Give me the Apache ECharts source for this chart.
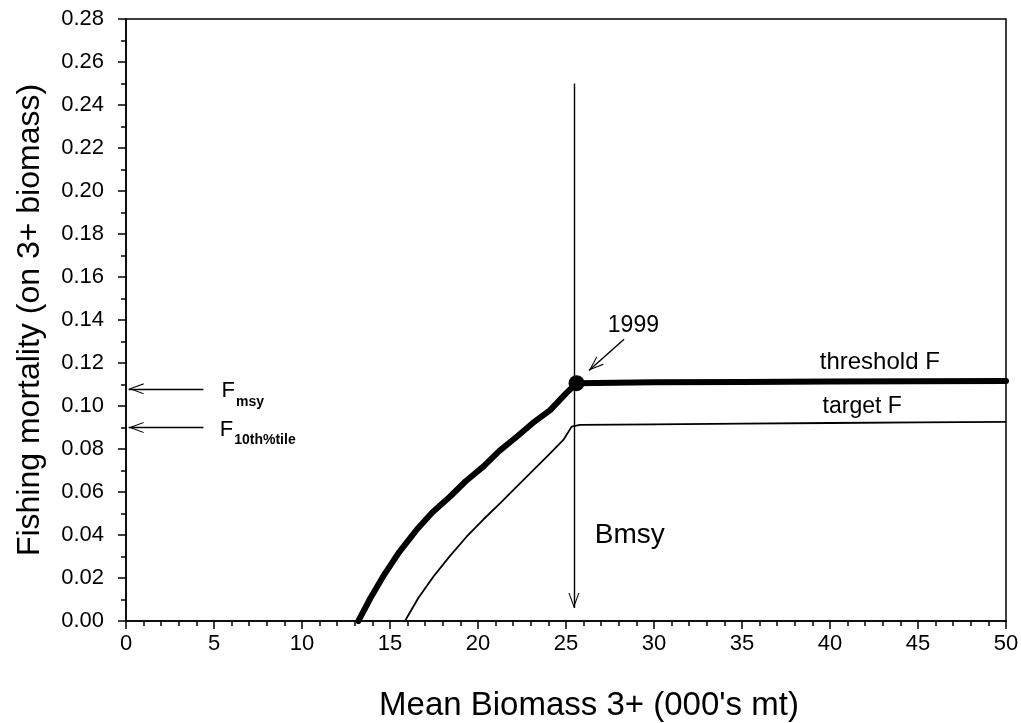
<!DOCTYPE html>
<html>
<head>
<meta charset="utf-8">
<script src="https://cdn.jsdelivr.net/npm/echarts@6/dist/echarts.min.js"></script>
<style>
  html, body { margin: 0; padding: 0; background: #fff; }
  #chart { width: 1021px; height: 723px; }
</style>
</head>
<body>
<div id="chart"></div>
<script>
// threshold F control rule (thick)
const thresholdBiomass = [13.2, 13.9, 14.6, 15.5, 16.5, 17.4, 18.4, 19.3, 20.3, 21.2, 22.2, 23.1, 24.1, 25.0, 25.6, 30, 35, 40, 45, 50]
const thresholdF = [0, 0.0108, 0.0206, 0.0318, 0.0423, 0.0505, 0.0578, 0.0650, 0.0718, 0.0790, 0.0857, 0.0920, 0.0981, 0.1059, 0.1106, 0.1110, 0.1112, 0.1114, 0.1115, 0.1116]
// target F control rule (thin)
const targetBiomass = [15.85, 16.6, 17.46, 18.4, 19.35, 20.3, 21.25, 22.2, 23.14, 24.0, 24.85, 25.32, 25.8, 30, 35, 40, 45, 50]
const targetF = [0, 0.0106, 0.0206, 0.0302, 0.0392, 0.0472, 0.0547, 0.0625, 0.0702, 0.0772, 0.0842, 0.0904, 0.0912, 0.0915, 0.0918, 0.0921, 0.0924, 0.0926]
// 1999 point
const point1999 = [25.6, 0.1106]
// reference levels on the F axis
const fMsy = 0.108
const f10th = 0.090
const bMsy = 25.45

const chevron = 'path://M5,0 L10,10 L9,10 L5,2 L1,10 L0,10 Z M5,-10 L5,-10 Z'
const font = 'Liberation Sans, Arial, sans-serif'

const zip = (xs, ys) => xs.map((x, i) => [x, ys[i]])

const chart = echarts.init(document.getElementById('chart'))

const subRich = {
  f: { fontSize: 22, color: '#000', verticalAlign: 'bottom', lineHeight: 26, padding: [0, 1, 0, 0] },
  s: { fontSize: 14, color: '#000', fontWeight: 'bold', verticalAlign: 'bottom', lineHeight: 26, padding: [0, 0, -7, 0] },
}

const note = (x, y, text, size) => ({
  value: [x, y],
  label: {
    formatter: text, fontSize: size, color: '#000',
    position: 'right', distance: 0, align: 'center', verticalAlign: 'middle',
  },
})

const option = {
  animation: false,
  textStyle: { fontFamily: font, color: '#000' },
  grid: {
    left: 126, right: 15, top: 19, bottom: 102,
    containLabel: false,
    outerBoundsMode: 'none',
    show: true, borderColor: '#000', borderWidth: 1.5,
  },
  xAxis: {
    type: 'value',
    min: 0, max: 50, interval: 5,
    name: "Mean Biomass 3+ (000's mt)",
    nameLocation: 'middle',
    nameGap: 68,
    nameTextStyle: { fontSize: 33, color: '#000', padding: [0, 0, 0, 46] },
    axisLine: { onZero: false, lineStyle: { color: '#000', width: 1.5 } },
    axisTick: { length: 8, lineStyle: { color: '#000', width: 1.5 } },
    minorTick: { show: true, splitNumber: 5, length: 5, lineStyle: { color: '#000', width: 1.5 } },
    splitLine: { show: false },
    axisLabel: { fontSize: 22, color: '#000', margin: 12 },
  },
  yAxis: {
    type: 'value',
    min: 0, max: 0.28, interval: 0.02,
    name: 'Fishing mortality (on 3+ biomass)',
    nameLocation: 'middle',
    nameGap: 80,
    nameTextStyle: { fontSize: 32, color: '#000' },
    axisLine: { onZero: false, lineStyle: { color: '#000', width: 1.5 } },
    axisTick: { length: 8, lineStyle: { color: '#000', width: 1.5 } },
    minorTick: { show: true, splitNumber: 2, length: 5, lineStyle: { color: '#000', width: 1.5 } },
    splitLine: { show: false },
    axisLabel: { fontSize: 22, color: '#000', margin: 22, formatter: v => v.toFixed(2) },
  },
  series: [
    {
      name: 'threshold F',
      type: 'line',
      data: zip(thresholdBiomass, thresholdF),
      showSymbol: false,
      lineStyle: { color: '#000', width: 6, cap: 'round', join: 'round' },
    },
    {
      name: 'target F',
      type: 'line',
      data: zip(targetBiomass, targetF),
      showSymbol: false,
      lineStyle: { color: '#000', width: 1.8 },
    },
    {
      name: '1999',
      type: 'scatter',
      data: [point1999],
      symbolSize: 16,
      itemStyle: { color: '#000', opacity: 1 },
      markLine: {
        silent: true,
        symbol: ['none', chevron],
        symbolSize: [11, 30],
        lineStyle: { color: '#000', width: 1.4, type: 'solid' },
        label: { show: false },
        data: [
          [{ coord: [bMsy, 0.25] }, { coord: [bMsy, 0.006] }],
          [{ coord: [28.3, 0.131] }, { coord: [26.3, 0.1165] }],
          [{ coord: [4.4, fMsy] }, { coord: [0.15, fMsy] }],
          [{ coord: [4.4, f10th] }, { coord: [0.15, f10th] }],
        ],
      },
    },
    {
      // text notes
      type: 'scatter',
      symbolSize: 1,
      itemStyle: { color: 'rgba(0,0,0,0)', opacity: 1 },
      silent: true,
      label: { show: true, color: '#000' },
      data: [
        note(42.8, 0.1205, 'threshold F', 24),
        note(41.8, 0.0995, 'target F', 23),
        note(28.6, 0.040, 'Bmsy', 28),
        note(28.8, 0.1375, '1999', 23),
        {
          value: [5.4, fMsy],
          label: { position: 'right', distance: 0, formatter: '{f|F}{s|msy}', rich: subRich },
        },
        {
          value: [5.3, f10th],
          label: { position: 'right', distance: 0, formatter: '{f|F}{s|10th%tile}', rich: subRich },
        },
      ],
    },
  ],
}

chart.setOption(option)
</script>
</body>
</html>
